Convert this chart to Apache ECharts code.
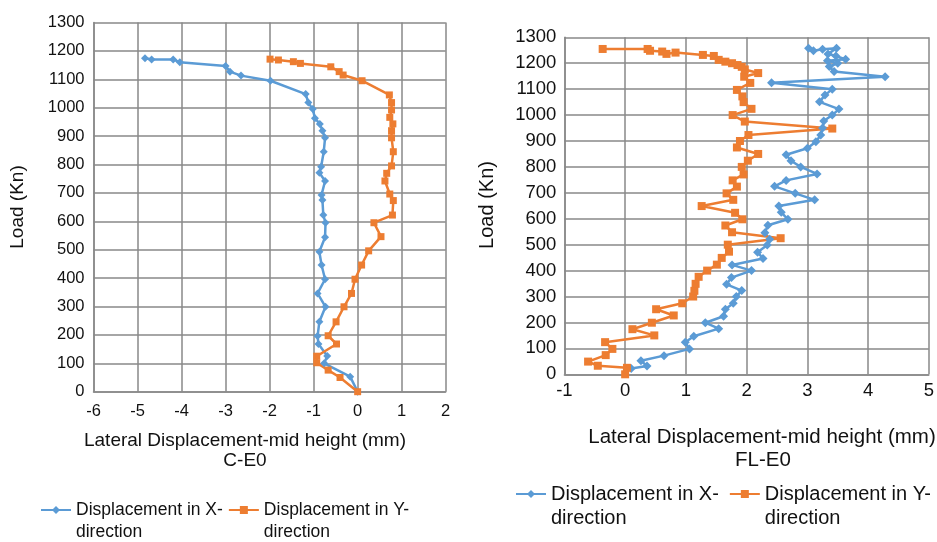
<!DOCTYPE html>
<html>
<head>
<meta charset="utf-8">
<script src="https://cdn.jsdelivr.net/npm/echarts@6/dist/echarts.min.js"></script>
<style>html,body{margin:0;padding:0;background:#fff;}#c{width:937px;height:542px;}</style>
</head>
<body>
<div id="c"></div>
<script>
// ---- C-E0 (left chart) ----
const ce0XDisp = [0, -0.17, -0.76, -0.69, -0.89, -0.91, -0.87, -0.73, -0.91, -0.74, -0.82, -0.87, -0.74, -0.73, -0.78, -0.80, -0.82, -0.74, -0.87, -0.83, -0.77, -0.74, -0.80, -0.86, -0.97, -1.02, -1.12, -1.18, -1.98, -2.65, -2.90, -3.00, -4.04, -4.19, -4.68, -4.83];
const ce0XLoad = [0, 53, 100, 126, 168, 196, 246, 299, 346, 396, 446, 493, 544, 595, 622, 675, 693, 742, 771, 792, 845, 894, 919, 943, 963, 995, 1018, 1048, 1095, 1113, 1127, 1147, 1160, 1170, 1170, 1174];
const ce0YDisp = [0, -0.40, -0.67, -0.93, -0.93, -0.48, -0.67, -0.49, -0.31, -0.14, -0.06, 0.09, 0.25, 0.53, 0.37, 0.79, 0.81, 0.73, 0.62, 0.66, 0.77, 0.81, 0.77, 0.77, 0.80, 0.73, 0.77, 0.77, 0.72, 0.10, -0.33, -0.42, -0.61, -1.30, -1.46, -1.80, -1.99];
const ce0YLoad = [0, 50, 76, 102, 125, 168, 197, 246, 299, 346, 396, 446, 496, 546, 595, 622, 673, 696, 742, 769, 795, 845, 894, 919, 943, 966, 992, 1018, 1045, 1095, 1115, 1127, 1144, 1156, 1162, 1168, 1171];

// ---- FL-E0 (right chart) ----
const fleXDisp = [0.10, 0.36, 0.26, 0.64, 1.06, 0.99, 1.13, 1.54, 1.32, 1.62, 1.65, 1.78, 1.83, 1.92, 1.67, 1.75, 2.08, 1.76, 2.27, 2.18, 2.34, 2.38, 2.30, 2.35, 2.68, 2.57, 2.53, 3.12, 2.80, 2.46, 2.65, 3.16, 2.89, 2.73, 2.65, 3.00, 3.14, 3.22, 3.25, 3.27, 3.41, 3.52, 3.20, 3.29, 3.41, 2.41, 4.28, 3.44, 3.36, 3.50, 3.33, 3.63, 3.47, 3.34, 3.48, 3.25, 3.10, 3.02];
const fleXLoad = [22, 32, 52, 72, 98, 124, 147, 176, 199, 224, 251, 274, 300, 323, 347, 373, 400, 422, 447, 471, 499, 521, 546, 575, 598, 625, 649, 673, 698, 725, 748, 773, 800, 824, 847, 872, 897, 923, 950, 977, 1000, 1023, 1051, 1077, 1100, 1125, 1148, 1168, 1187, 1200, 1210, 1215, 1228, 1236, 1258, 1254, 1248, 1258];
const fleYDisp = [0, 0.03, -0.45, -0.61, -0.32, -0.21, -0.33, 0.48, 0.12, 0.44, 0.80, 0.51, 0.94, 1.12, 1.14, 1.16, 1.21, 1.35, 1.51, 1.59, 1.71, 1.69, 2.56, 1.76, 1.65, 1.93, 1.81, 1.26, 1.78, 1.67, 1.84, 1.77, 1.95, 1.92, 2.02, 2.19, 1.84, 1.89, 2.03, 3.41, 1.97, 1.77, 2.08, 1.95, 1.93, 1.84, 2.06, 1.96, 2.19, 1.97, 1.92, 1.85, 1.76, 1.65, 1.54, 1.46, 1.28, 0.83, 0.68, 0.61, 0.41, 0.37, -0.37];
const fleYLoad = [0, 25, 33, 49, 74, 98, 124, 150, 174, 199, 227, 251, 274, 300, 322, 349, 376, 400, 423, 449, 473, 500, 525, 548, 574, 598, 623, 649, 673, 698, 724, 748, 771, 800, 824, 850, 875, 900, 923, 948, 975, 1000, 1024, 1050, 1072, 1097, 1124, 1148, 1162, 1176, 1186, 1193, 1200, 1206, 1213, 1228, 1232, 1241, 1236, 1245, 1248, 1255, 1255];

const seriesNames = ['Displacement in X-direction', 'Displacement in Y-direction'];
const axisTitle = 'Lateral Displacement-mid height (mm)';
const loadTitle = 'Load (Kn)';
const chartLabels = ['C-E0', 'FL-E0'];

const BLUE = '#5B9BD5', ORANGE = '#ED7D31', GRID = '#898989';
const FONT = 'Liberation Sans, Arial, sans-serif';
const pair = (xs, ys) => xs.map((v, i) => [v, ys[i]]);

function xAx(idx, min, max, fs, margin) {
  return {
    type: 'value', gridIndex: idx, min: min, max: max, interval: 1,
    axisLine: { show: true, onZero: false, lineStyle: { color: GRID, width: 1.5 } },
    axisTick: { show: false },
    splitLine: { show: true, lineStyle: { color: GRID, width: 1.5 } },
    axisLabel: { color: '#111', fontSize: fs, fontFamily: FONT, margin: margin, formatter: v => String(v) }
  };
}
function yAx(idx, fs, margin) {
  return {
    type: 'value', gridIndex: idx, min: 0, max: 1300, interval: 100,
    axisLine: { show: true, onZero: false, lineStyle: { color: GRID, width: 1.5 } },
    axisTick: { show: false },
    splitLine: { show: true, lineStyle: { color: GRID, width: 1.5 } },
    axisLabel: { color: '#111', fontSize: fs, fontFamily: FONT, margin: margin, formatter: v => String(v) }
  };
}
function ser(name, idx, data, color, symbol, size) {
  return {
    name: name, type: 'line', xAxisIndex: idx, yAxisIndex: idx, data: data,
    symbol: symbol, symbolSize: size, showSymbol: true,
    lineStyle: { color: color, width: 2.5 }, itemStyle: { color: color },
    animation: false, z: 3
  };
}
function legend(left, top, gap, fs, lh) {
  return {
    left: left, top: top, orient: 'horizontal', padding: 0,
    itemWidth: 30, itemHeight: 10, itemGap: gap,
    data: seriesNames,
    formatter: n => ' \n' + n.replace('-direction', '-\ndirection'),
    textStyle: { fontSize: fs, lineHeight: lh, fontFamily: FONT, color: '#111' }
  };
}

const chart = echarts.init(document.getElementById('c'));
chart.setOption({
  backgroundColor: '#fff',
  animation: false,
  grid: [
    { left: 93.5, right: 937 - 445.7, top: 22.5, bottom: 542 - 391.7 },
    { left: 564.4, right: 937 - 932.3, top: 37.3, bottom: 542 - 374.3 }
  ],
  xAxis: [xAx(0, -6, 2, 16.5, 11), xAx(1, -1, 5, 18.5, 7)],
  yAxis: [yAx(0, 16.5, 9), yAx(1, 18.5, 8)],
  legend: [legend(40, 477, 5, 17.5, 22), legend(515, 458, 10, 20, 24)],
  series: [
    ser(seriesNames[0], 0, pair(ce0XDisp, ce0XLoad), BLUE, 'diamond', 8),
    ser(seriesNames[1], 0, pair(ce0YDisp, ce0YLoad), ORANGE, 'rect', 7),
    ser(seriesNames[0], 1, pair(fleXDisp, fleXLoad), BLUE, 'diamond', 9),
    ser(seriesNames[1], 1, pair(fleYDisp, fleYLoad), ORANGE, 'rect', 8)
  ],
  graphic: [
    { type: 'text', x: 245, y: 441, style: { text: axisTitle, font: '19px ' + FONT, fill: '#111', align: 'center', verticalAlign: 'middle' } },
    { type: 'text', x: 245, y: 461, style: { text: chartLabels[0], font: '19px ' + FONT, fill: '#111', align: 'center', verticalAlign: 'middle' } },
    { type: 'text', x: 762, y: 437, style: { text: axisTitle, font: '20.5px ' + FONT, fill: '#111', align: 'center', verticalAlign: 'middle' } },
    { type: 'text', x: 763, y: 460, style: { text: chartLabels[1], font: '20.5px ' + FONT, fill: '#111', align: 'center', verticalAlign: 'middle' } },
    { type: 'text', x: 18, y: 207, rotation: Math.PI / 2, style: { text: loadTitle, font: '19px ' + FONT, fill: '#111', align: 'center', verticalAlign: 'middle' } },
    { type: 'text', x: 487, y: 205, rotation: Math.PI / 2, style: { text: loadTitle, font: '20px ' + FONT, fill: '#111', align: 'center', verticalAlign: 'middle' } }
  ]
});
</script>
</body>
</html>
